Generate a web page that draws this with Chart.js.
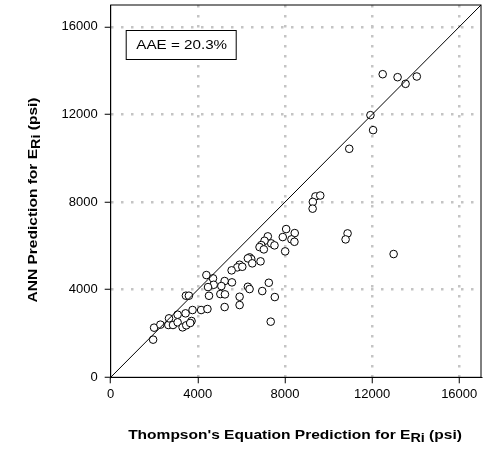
<!DOCTYPE html>
<html>
<head>
<meta charset="utf-8">
<script src="https://cdn.jsdelivr.net/npm/chart.js@4"></script>
<style>
  html, body { margin: 0; padding: 0; background: #fff; }
  #wrap { width: 486px; height: 449px; }
</style>
</head>
<body>
<div id="wrap"><canvas id="chart" width="486" height="449"></canvas></div>
<script>
// Thompson's equation prediction (x) vs ANN prediction (y), psi
const thompsonPred = [
    12487, 13171, 13537, 14053, 11924, 12046, 10951,
    9400, 9620, 9280, 9270, 10875, 10784, 12989,
    8055, 8449, 7899, 8297, 8435, 8009,
    7213, 7368, 7519, 7062, 6911, 6833, 7030,
    6375, 6453, 6297, 6879, 5918, 5812, 6041, 5551, 6499,
    4393, 4697, 5231, 5566, 4728, 4468, 5080, 4513, 5035, 5245, 5918,
    6298, 6375, 7259, 6957, 7534, 5918, 5231,
    1947, 1992, 2281, 2647, 2677, 2860, 3072, 3072, 3300, 3437, 3468,
    3711, 3650, 3757, 3453, 3590, 4152, 4441, 7346
];
const annPred = [
    13840, 13704, 13400, 13735, 11970, 11286, 10434,
    8260, 8300, 8010, 7700, 6571, 6297, 5628,
    6768, 6585, 6403, 6298, 6188, 5750,
    6435, 6115, 6024, 6234, 6038, 5946, 5841,
    5476, 5399, 5431, 5294, 5139, 5020, 5047, 4883, 5203,
    4668, 4518, 4395, 4335, 4225, 4120, 4166, 3723, 3801, 3787, 3678,
    4134, 4029, 4317, 3938, 3664, 3299, 3208,
    1719, 2266, 2403, 2388, 2692, 2388, 2859, 2510, 2281, 2920, 2373,
    2570, 2480, 3072, 3726, 3726, 3072, 3118, 2540
];
const tickValues = [0, 4000, 8000, 12000, 16000];
const axisMax = 17000;
const equalityLine = [0, axisMax];
const aaeLabel = 'AAE = 20.3%';

const points = thompsonPred.map((x, i) => ({ x: x, y: annPred[i] }));

const FONT = '"Liberation Sans", Arial, sans-serif';

// text with a subscript part, centred on (x, y), stretched a bit horizontally
function drawTitle(ctx, x, y, pre, sub, post) {
    const big = 'bold 13.5px ' + FONT, small = 'bold 12.5px ' + FONT;
    ctx.font = big;
    const w1 = ctx.measureText(pre).width;
    const w3 = ctx.measureText(post).width;
    ctx.font = small;
    const w2 = ctx.measureText(sub).width;
    ctx.save();
    ctx.translate(x, y);
    ctx.scale(1.15, 1);
    let cx = -(w1 + w2 + w3) / 2;
    ctx.textBaseline = 'middle';
    ctx.textAlign = 'left';
    ctx.font = big;
    ctx.fillText(pre, cx, 0);
    cx += w1;
    ctx.font = small;
    ctx.fillText(sub, cx, 4);
    cx += w2;
    ctx.font = big;
    ctx.fillText(post, cx, 0);
    ctx.restore();
}

const framePlugin = {
    id: 'frame',
    afterDraw(chart) {
        const { ctx, chartArea } = chart;
        ctx.save();
        ctx.strokeStyle = '#000';
        ctx.lineWidth = 1;
        ctx.strokeRect(chartArea.left, chartArea.top, chartArea.right - chartArea.left, chartArea.bottom - chartArea.top);

        // AAE box
        const bx = chartArea.left + 15, by = chartArea.top + 25;
        ctx.fillStyle = '#fff';
        ctx.fillRect(bx, by, 110, 29);
        ctx.strokeRect(bx + 0.5, by + 0.5, 110, 29);
        ctx.fillStyle = '#000';
        ctx.font = '13px ' + FONT;
        ctx.textAlign = 'center';
        ctx.textBaseline = 'middle';
        ctx.save();
        ctx.translate(bx + 56, by + 15.5);
        ctx.scale(1.17, 1);
        ctx.fillText(aaeLabel, 0, 0);
        ctx.restore();

        // axis titles
        drawTitle(ctx, 295, 435, "Thompson's Equation Prediction for E", 'Ri', ' (psi)');
        ctx.translate(33, 200);
        ctx.rotate(-Math.PI / 2);
        drawTitle(ctx, 0, 0, 'ANN Prediction for E', 'Ri', ' (psi)');
        ctx.restore();
    }
};

function axisOptions(isX) {
    return {
        type: 'linear',
        min: 0,
        max: axisMax,
        afterBuildTicks: scale => { scale.ticks = tickValues.map(v => ({ value: v })); },
        afterFit: scale => {
            if (isX) scale.height = 71.7;
            else scale.width = 110.7;
            scale.paddingTop = 0;
            scale.paddingBottom = 0;
            scale.paddingLeft = 0;
            scale.paddingRight = 0;
        },
        border: { display: true, color: '#000', width: 1, dash: [2.5, 7.5] },
        grid: {
            color: c => (c.tick && c.tick.value === 0) ? 'rgba(0,0,0,0)' : '#c4c4c4',
            lineWidth: 2.5,
            tickColor: '#000',
            tickWidth: 1,
            tickLength: 6,
            tickBorderDash: []
        },
        ticks: {
            color: '#000',
            padding: isX ? 3 : 7,
            font: { family: FONT, size: 13 },
            callback: v => String(v),
            maxRotation: 0
        }
    };
}

new Chart(document.getElementById('chart'), {
    type: 'scatter',
    data: {
        datasets: [
            {
                type: 'line',
                data: equalityLine.map(v => ({ x: v, y: v })),
                borderColor: '#000',
                borderWidth: 1,
                pointRadius: 0,
                fill: false
            },
            {
                data: points,
                pointStyle: 'circle',
                pointRadius: 3.8,
                borderWidth: 1,
                borderColor: '#000',
                backgroundColor: '#fff'
            }
        ]
    },
    options: {
        responsive: false,
        animation: false,
        devicePixelRatio: 1,
        layout: { padding: { left: 0, right: 3.7, top: 5, bottom: 0 } },
        plugins: { legend: { display: false }, tooltip: { enabled: false } },
        scales: { x: axisOptions(true), y: axisOptions(false) }
    },
    plugins: [framePlugin]
});
</script>
</body>
</html>
